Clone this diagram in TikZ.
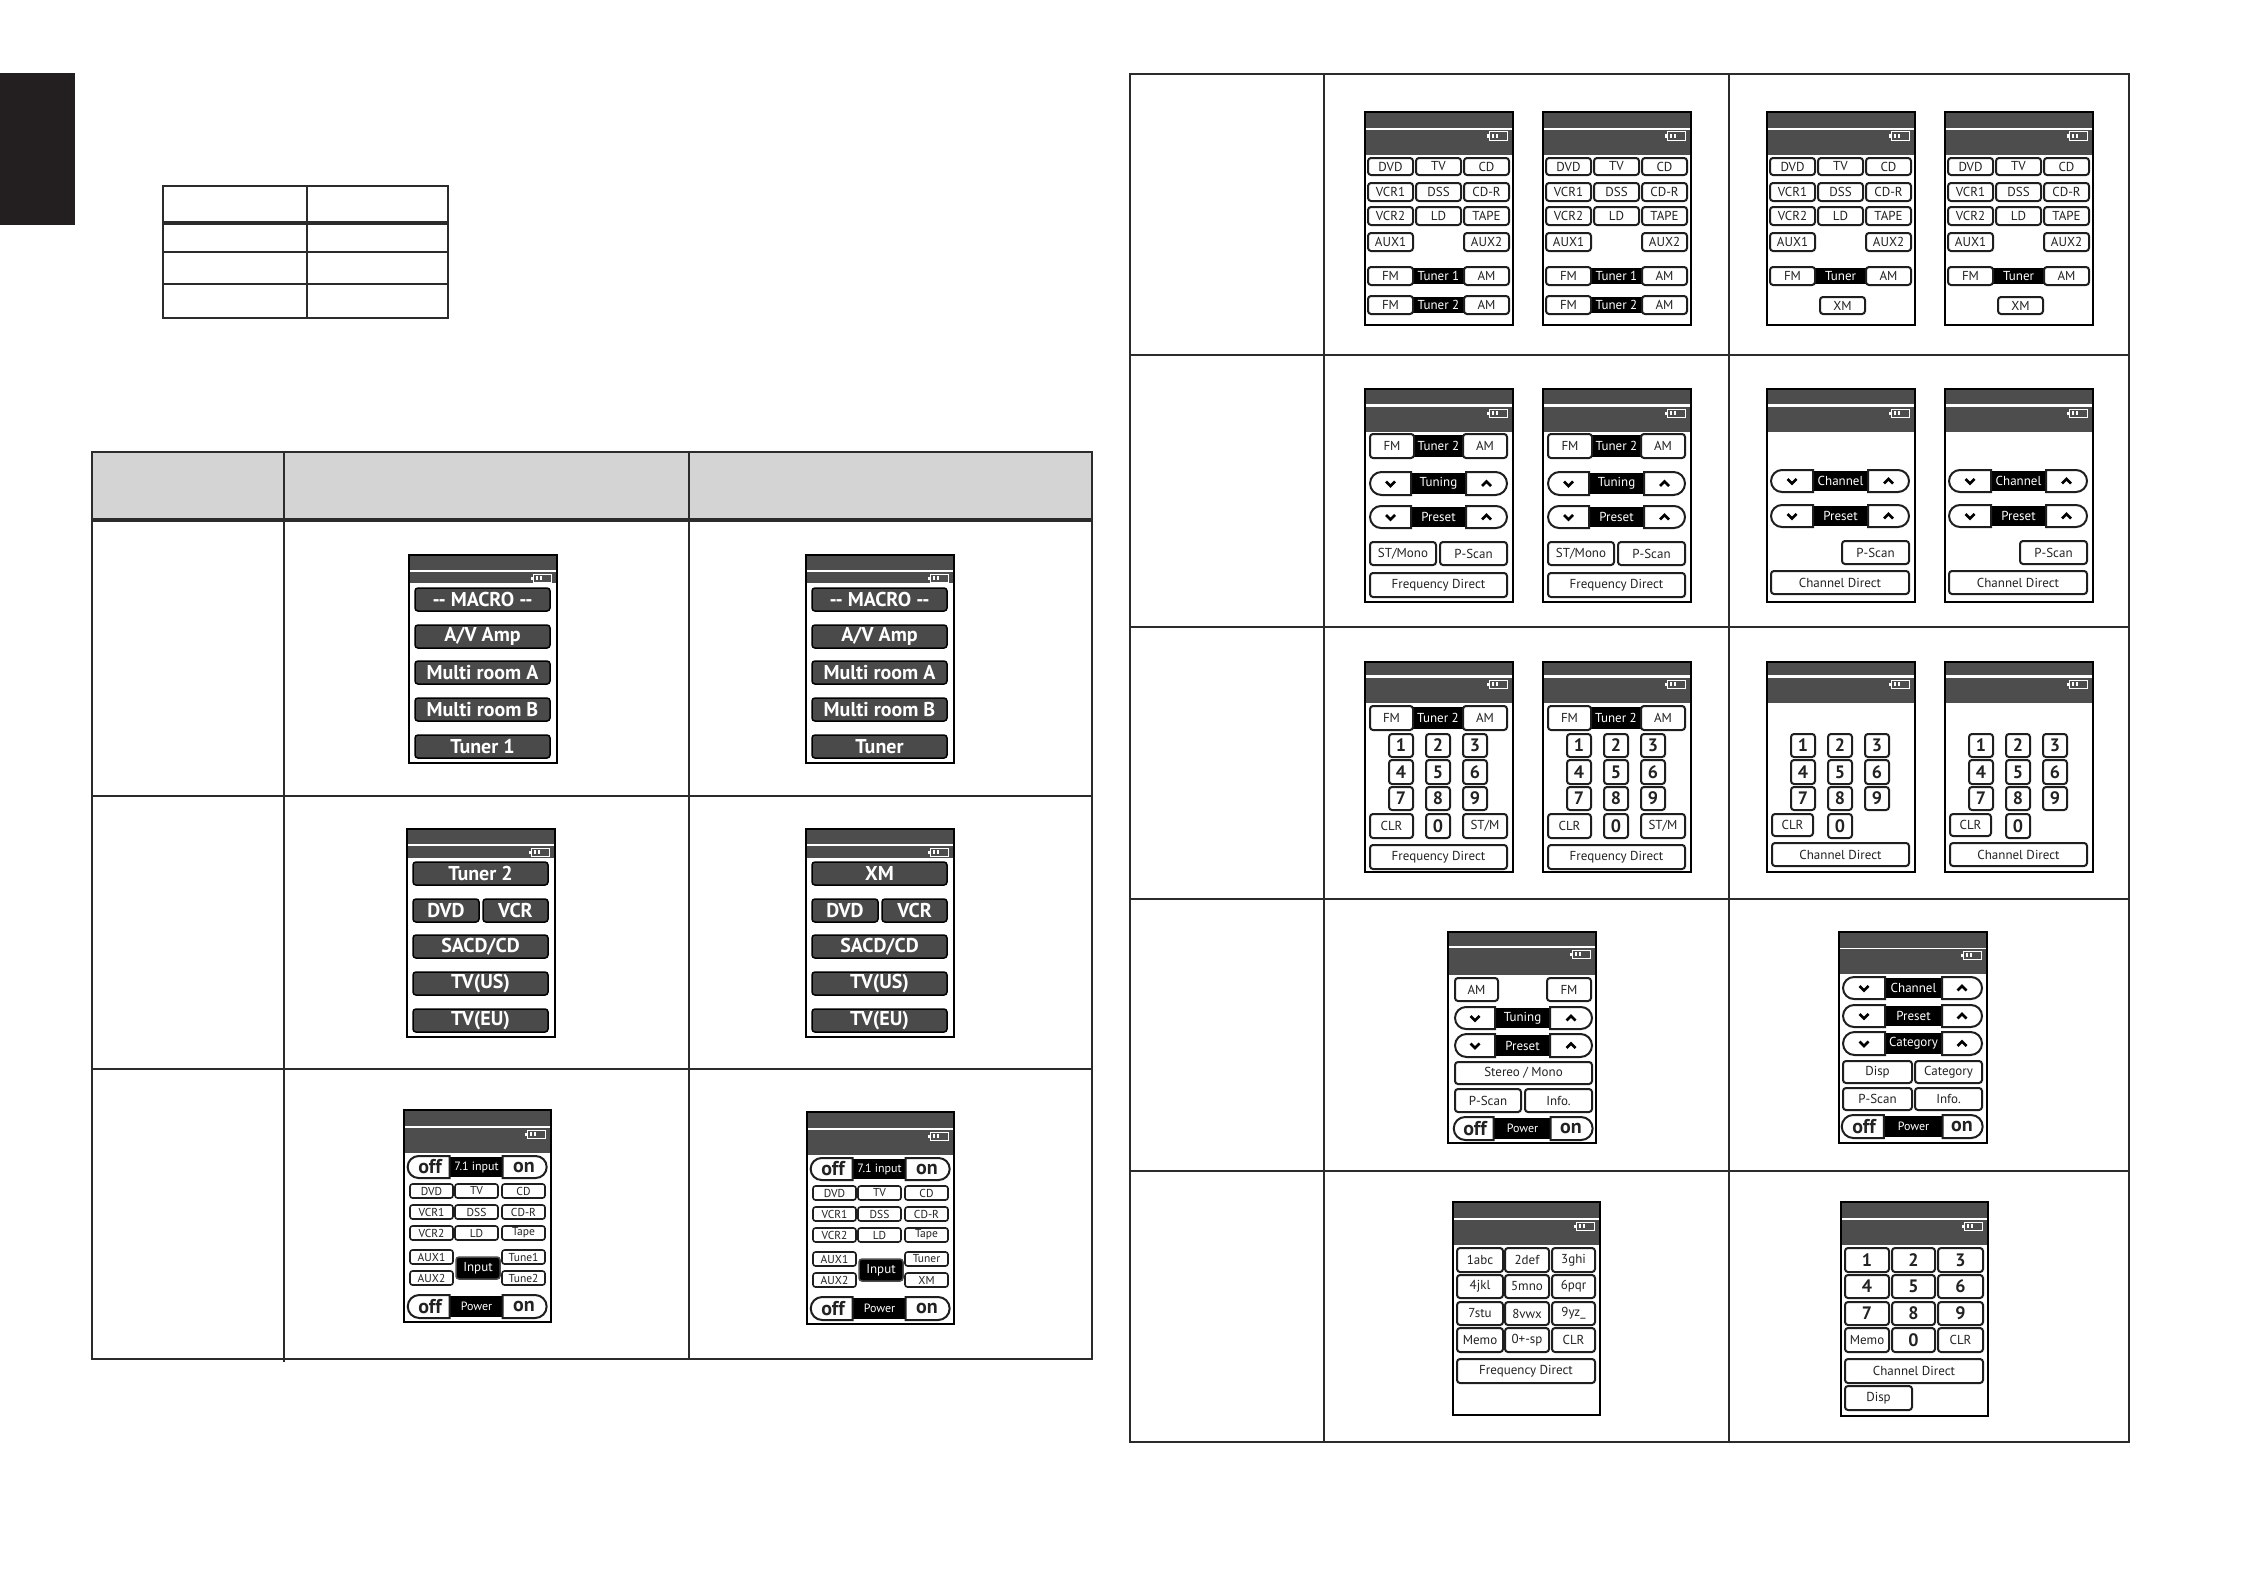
\documentclass[tikz,border=0pt]{standalone}
\usepackage{fontspec}
\setmainfont{PT Sans}
\usetikzlibrary{shapes.misc}
\definecolor{barc}{HTML}{4D4D4D}
\definecolor{macc}{HTML}{4A4A4A}
\definecolor{btnc}{HTML}{1E1E1E}
\definecolor{txtc}{HTML}{222222}
\definecolor{hdrc}{HTML}{D4D4D4}
\definecolor{linec}{HTML}{2B2B2B}
\definecolor{tabc}{HTML}{231F20}
\newcommand\fz[1]{\fontsize{#1bp}{#1bp}\selectfont}
\newcounter{nd}
\newcommand\Btn[6]{\stepcounter{nd}\node[#1, minimum width={((#4)-(#2))*1bp}, minimum height={((#5)-(#3))*1bp}] (n\arabic{nd}) at ({((#2)+(#4))/2},{((#3)+(#5))/2}) {#6};}
\tikzset{
 wb/.style={draw=btnc, line width=2bp, fill=white, rounded corners=3bp, inner sep=0pt, outer sep=0pt, text=txtc, font=\fz{13}},
 sb/.style={wb, line width=1.6bp, rounded corners=2.5bp, font=\fz{11.5}},
 mb/.style={draw=black, line width=1.5bp, fill=macc, rounded corners=3bp, inner sep=0pt, text=white, font=\bfseries\fz{20}},
 ib/.style={draw=black!70, line width=1.5bp, fill=black, rounded corners=3bp, inner sep=0pt, text=white, font=\fz{13}},
 blk/.style={fill=black, inner sep=0pt, text=white, font=\fz{13}},
 pl/.style={wb, sharp corners, rounded rectangle, rounded rectangle right arc=none},
 pr/.style={wb, sharp corners, rounded rectangle, rounded rectangle left arc=none},
 nk/.style={wb, font=\bfseries\fz{18}},
 chev/.style={line width=2.6bp, black},
 tl/.style={draw=linec, line width=2.4bp},
}
\newcommand\Batt[2]{%
 \draw[white, line width=1bp] ({#1},{#2}) rectangle ({#1+18},{#2+8});
 \fill[white] ({#1-2.5},{#2+2.5}) rectangle ({#1},{#2+5.5});
 \fill[white] ({#1+3},{#2+2}) rectangle ({#1+5},{#2+6});
 \fill[white] ({#1+7},{#2+2}) rectangle ({#1+9},{#2+6});
}
\newcommand\Scr[5]{%
 \fill[white] (0,0) rectangle (#1,#2);
 \fill[barc] (0,0) rectangle (#1,#3);
 \fill[barc] (0,#4) rectangle (#1,#5);
 \Batt{(#1)-24}{(#4)+2}
 \draw[black, line width=2.2bp] (0,0) rectangle (#1,#2);
}
\newcommand\PillC[7]{%
 \Btn{blk}{(#2)-4}{(#5)+1}{(#3)+4}{(#6)-1}{#7}
 \Btn{pl}{#1}{#5}{#2}{#6}{}
 \Btn{pr}{#3}{#5}{#4}{#6}{}
 \draw[chev] ({((#1)+(#2))/2-4.5},{((#5)+(#6))/2-2}) -- ({((#1)+(#2))/2},{((#5)+(#6))/2+2.5}) -- ({((#1)+(#2))/2+4.5},{((#5)+(#6))/2-2});
 \draw[chev] ({((#3)+(#4))/2-4.5},{((#5)+(#6))/2+2.5}) -- ({((#3)+(#4))/2},{((#5)+(#6))/2-2}) -- ({((#3)+(#4))/2+4.5},{((#5)+(#6))/2+2.5});
}
\newcommand\PillT[9]{%
 \Btn{blk}{(#2)-4}{(#5)+1}{(#3)+4}{(#6)-1}{#8}
 \Btn{pl}{#1}{#5}{#2}{#6}{#7}
 \Btn{pr}{#3}{#5}{#4}{#6}{#9}
}
\newcommand\Tri[9]{%
 \Btn{blk}{(#4)-3}{(#1)+1}{(#5)+3}{(#2)-1}{#8}
 \Btn{wb}{#3}{#1}{#4}{#2}{#7}
 \Btn{wb}{#5}{#1}{#6}{#2}{#9}
}
\newcommand\DevGrid{%
 \Btn{wb}{3}{46}{48}{63}{DVD}\Btn{wb}{51}{46}{96}{63}{TV}\Btn{wb}{99}{46}{144}{63}{CD}
 \Btn{wb}{3}{71}{48}{89}{VCR1}\Btn{wb}{51}{71}{96}{89}{DSS}\Btn{wb}{99}{71}{144}{89}{CD-R}
 \Btn{wb}{3}{95}{48}{113}{VCR2}\Btn{wb}{51}{95}{96}{113}{LD}\Btn{wb}{99}{95}{144}{113}{TAPE}
 \Btn{wb}{3}{121}{48}{139}{AUX1}\Btn{wb}{99}{121}{144}{139}{AUX2}}
\newcommand\Digits{%
 \Btn{nk}{24}{72}{48}{95}{1}\Btn{nk}{61}{72}{85}{95}{2}\Btn{nk}{98}{72}{122}{95}{3}
 \Btn{nk}{24}{98}{48}{122}{4}\Btn{nk}{61}{98}{85}{122}{5}\Btn{nk}{98}{98}{122}{122}{6}
 \Btn{nk}{24}{125}{48}{148}{7}\Btn{nk}{61}{125}{85}{148}{8}\Btn{nk}{98}{125}{122}{148}{9}
 \Btn{nk}{61}{152}{85}{176}{0}}
\newcommand\MacroScr[1]{%
 \Scr{148}{208}{15}{17}{28}
 \Btn{mb}{6}{33}{141}{56}{-{}- MACRO -{}-}
 \Btn{mb}{6}{70}{141}{93}{A/V Amp}
 \Btn{mb}{6}{106}{141}{129}{Multi room A}
 \Btn{mb}{6}{143}{141}{166}{Multi room B}
 \Btn{mb}{6}{180}{141}{203}{#1}}
\newcommand\SrcScr[1]{%
 \Scr{148}{208}{15}{17}{29}
 \Btn{mb}{6}{33}{141}{56}{#1}
 \Btn{mb}{6}{70}{72}{93}{DVD}
 \Btn{mb}{76}{70}{141}{93}{VCR}
 \Btn{mb}{6}{106}{141}{129}{SACD/CD}
 \Btn{mb}{6}{143}{141}{166}{TV(US)}
 \Btn{mb}{6}{180}{141}{203}{TV(EU)}}
\newcommand\InScr[2]{%
 \Scr{147}{212}{16}{18}{43}
 \PillT{5}{47}{98}{142}{46}{68}{\bfseries\fz{20}off}{\fz{12}7.1 input}{\bfseries\fz{20}on}
 \Btn{sb}{6}{74}{49}{88}{DVD}\Btn{sb}{51}{74}{94}{88}{TV}\Btn{sb}{98}{74}{141}{88}{CD}
 \Btn{sb}{6}{95}{49}{109}{VCR1}\Btn{sb}{51}{95}{94}{109}{DSS}\Btn{sb}{98}{95}{141}{109}{CD-R}
 \Btn{sb}{6}{116}{49}{130}{VCR2}\Btn{sb}{51}{116}{94}{130}{LD}\Btn{sb}{98}{116}{141}{130}{Tape}
 \Btn{sb}{6}{140}{49}{154}{AUX1}\Btn{sb}{98}{140}{141}{154}{#1}
 \Btn{sb}{6}{161}{49}{175}{AUX2}\Btn{sb}{98}{161}{141}{175}{#2}
 \Btn{ib}{52}{147}{96}{169}{Input}
 \PillT{5}{47}{98}{142}{185}{208}{\bfseries\fz{20}off}{\fz{12}Power}{\bfseries\fz{20}on}}
\newcommand\TunA[1]{%
 \Scr{148}{213}{15}{18}{43}
 \Tri{45}{69}{5}{49}{98}{142}{FM}{Tuner 2}{AM}
 \PillC{5}{46}{101}{142}{83}{106}{Tuning}
 \PillC{5}{46}{101}{142}{117}{139}{Preset}
 \Btn{wb}{5}{153}{71}{176}{ST/Mono}
 \Btn{wb}{75}{153}{142}{176}{P-Scan}
 \Btn{wb}{5}{184}{142}{208}{Frequency Direct}}
\newcommand\ChanA{%
 \Scr{148}{213}{15}{18}{43}
 \PillC{4}{46}{101}{142}{81}{103}{Channel}
 \PillC{4}{46}{101}{142}{116}{138}{Preset}
 \Btn{wb}{75}{152}{142}{175}{P-Scan}
 \Btn{wb}{4}{182}{142}{205}{Channel Direct}}
\newcommand\FreqPad{%
 \Scr{148}{210}{13}{16}{41}
 \Tri{44}{68}{5}{48}{98}{142}{FM}{Tuner 2}{AM}
 \Digits
 \Btn{wb}{5}{152}{48}{176}{CLR}\Btn{wb}{98}{152}{142}{176}{ST/M}
 \Btn{wb}{5}{183}{142}{207}{Frequency Direct}}
\newcommand\ChanPad{%
 \Scr{148}{210}{13}{16}{41}
 \Digits
 \Btn{wb}{5}{152}{46}{174}{CLR}
 \Btn{wb}{5}{181}{142}{204}{Channel Direct}}
\begin{document}
\begin{tikzpicture}[x=1bp, y=-1bp]
\useasboundingbox (0,0) rectangle (2246,1586);
\fill[white] (0,0) rectangle (2246,1586);
% side tab
\fill[tabc] (0,73) rectangle (75,225);
% small table
\draw[tl] (163,186) rectangle (448,318);
\draw[tl, line width=3.2bp] (163,223) -- (448,223);
\draw[tl, line width=1.8bp] (163,252) -- (448,252) (163,284) -- (448,284);
\draw[tl, line width=2bp] (307,186) -- (307,318);
% left table
\fill[hdrc] (92,452) rectangle (1092,520);
\draw[tl] (92,452) rectangle (1092,1359);
\draw[tl, line width=3.2bp] (92,520) -- (1092,520);
\draw[tl] (92,796) -- (1092,796) (92,1069) -- (1092,1069);
\draw[tl] (284,452) -- (284,1362) (689,452) -- (689,1359);
% right table
\draw[tl] (1130,74) rectangle (2129,1442);
\draw[tl] (1130,355) -- (2129,355) (1130,627) -- (2129,627) (1130,899) -- (2129,899) (1130,1171) -- (2129,1171);
\draw[tl] (1324,74) -- (1324,1442) (1729,74) -- (1729,1442);
% ---- left table screens
\begin{scope}[shift={(409,555)}]\MacroScr{Tuner 1}\end{scope}
\begin{scope}[shift={(806,555)}]\MacroScr{Tuner}\end{scope}
\begin{scope}[shift={(407,829)}]\SrcScr{Tuner 2}\end{scope}
\begin{scope}[shift={(806,829)}]\SrcScr{XM}\end{scope}
\begin{scope}[shift={(404,1110)}]\InScr{Tune1}{Tune2}\end{scope}
\begin{scope}[shift={(807,1112)}]\InScr{Tuner}{XM}\end{scope}
% ---- right table row 1
\begin{scope}[shift={(1365,112)}]\Scr{148}{213}{16}{18}{43}\DevGrid
 \Tri{155}{173}{3}{48}{99}{144}{FM}{Tuner 1}{AM}\Tri{184}{202}{3}{48}{99}{144}{FM}{Tuner 2}{AM}\end{scope}
\begin{scope}[shift={(1543,112)}]\Scr{148}{213}{16}{18}{43}\DevGrid
 \Tri{155}{173}{3}{48}{99}{144}{FM}{Tuner 1}{AM}\Tri{184}{202}{3}{48}{99}{144}{FM}{Tuner 2}{AM}\end{scope}
\begin{scope}[shift={(1767,112)}]\Scr{148}{213}{16}{18}{43}\DevGrid
 \Tri{155}{173}{3}{48}{99}{144}{FM}{Tuner}{AM}\Btn{wb}{53}{185}{98}{202}{XM}\end{scope}
\begin{scope}[shift={(1945,112)}]\Scr{148}{213}{16}{18}{43}\DevGrid
 \Tri{155}{173}{3}{48}{99}{144}{FM}{Tuner}{AM}\Btn{wb}{53}{185}{98}{202}{XM}\end{scope}
% ---- row 2
\begin{scope}[shift={(1365,389)}]\TunA{}\end{scope}
\begin{scope}[shift={(1543,389)}]\TunA{}\end{scope}
\begin{scope}[shift={(1767,389)}]\ChanA\end{scope}
\begin{scope}[shift={(1945,389)}]\ChanA\end{scope}
% ---- row 3
\begin{scope}[shift={(1365,662)}]\FreqPad\end{scope}
\begin{scope}[shift={(1543,662)}]\FreqPad\end{scope}
\begin{scope}[shift={(1767,662)}]\ChanPad\end{scope}
\begin{scope}[shift={(1945,662)}]\ChanPad\end{scope}
% ---- row 4
\begin{scope}[shift={(1448,932)}]
 \Scr{148}{211}{14}{16}{43}
 \Btn{wb}{7}{46}{50}{69}{AM}\Btn{wb}{99}{46}{143}{69}{FM}
 \PillC{7}{47}{102}{144}{75}{97}{Tuning}
 \PillC{7}{47}{102}{144}{102}{125}{Preset}
 \Btn{wb}{7}{130}{144}{152}{Stereo / Mono}
 \Btn{wb}{7}{157}{73}{180}{P-Scan}\Btn{wb}{77}{157}{144}{180}{Info.}
 \PillT{7}{47}{102}{144}{185}{208}{\bfseries\fz{20}off}{\fz{12}Power}{\bfseries\fz{20}on}
\end{scope}
\begin{scope}[shift={(1839,932)}]
 \Scr{148}{211}{16}{17}{42}
 \PillC{4}{46}{103}{143}{45}{67}{Channel}
 \PillC{4}{46}{103}{143}{73}{95}{Preset}
 \PillC{4}{46}{103}{143}{100}{123}{Category}
 \Btn{wb}{4}{129}{73}{151}{Disp}\Btn{wb}{76}{129}{143}{151}{Category}
 \Btn{wb}{4}{156}{73}{178}{P-Scan}\Btn{wb}{76}{156}{143}{178}{Info.}
 \PillT{4}{46}{103}{143}{183}{206}{\bfseries\fz{20}off}{\fz{12}Power}{\bfseries\fz{20}on}
\end{scope}
% ---- row 5
\begin{scope}[shift={(1453,1202)}]
 \Scr{147}{213}{16}{18}{43}
 \Btn{wb}{4}{46}{50}{70}{1abc}\Btn{wb}{52}{46}{96}{70}{2def}\Btn{wb}{99}{46}{142}{70}{3ghi}
 \Btn{wb}{4}{73}{50}{96}{4jkl}\Btn{wb}{52}{73}{96}{96}{5mno}\Btn{wb}{99}{73}{142}{96}{6pqr}
 \Btn{wb}{4}{100}{50}{123}{7stu}\Btn{wb}{52}{100}{96}{123}{8vwx}\Btn{wb}{99}{100}{142}{123}{9yz\_}
 \Btn{wb}{4}{126}{50}{150}{Memo}\Btn{wb}{52}{126}{96}{150}{0+-sp}\Btn{wb}{99}{126}{142}{150}{CLR}
 \Btn{wb}{4}{157}{142}{181}{Frequency Direct}
\end{scope}
\begin{scope}[shift={(1841,1202)}]
 \Scr{147}{214}{16}{18}{43}
 \Btn{nk}{4}{46}{48}{70}{1}\Btn{nk}{51}{46}{94}{70}{2}\Btn{nk}{97}{46}{142}{70}{3}
 \Btn{nk}{4}{73}{48}{96}{4}\Btn{nk}{51}{73}{94}{96}{5}\Btn{nk}{97}{73}{142}{96}{6}
 \Btn{nk}{4}{100}{48}{123}{7}\Btn{nk}{51}{100}{94}{123}{8}\Btn{nk}{97}{100}{142}{123}{9}
 \Btn{wb}{4}{126}{48}{150}{Memo}\Btn{nk}{51}{126}{94}{150}{0}\Btn{wb}{97}{126}{142}{150}{CLR}
 \Btn{wb}{4}{157}{142}{181}{Channel Direct}
 \Btn{wb}{4}{184}{71}{208}{Disp}
\end{scope}
\end{tikzpicture}
\end{document}
